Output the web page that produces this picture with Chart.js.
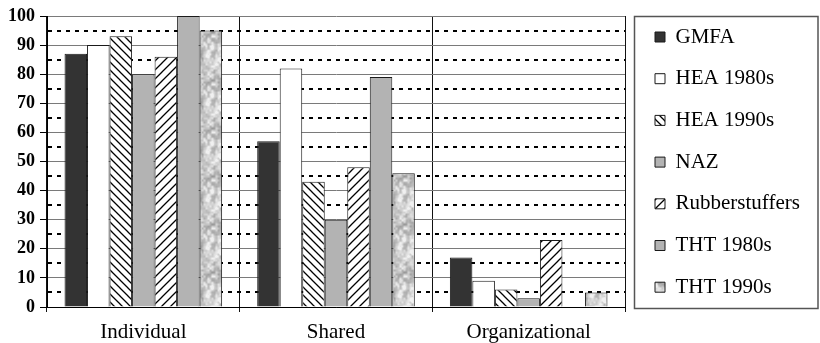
<!DOCTYPE html>
<html>
<head>
<meta charset="utf-8">
<script src="https://cdn.jsdelivr.net/npm/chart.js@4/dist/chart.umd.min.js"></script>
<style>
  html, body { margin: 0; padding: 0; background: #fff; }
  canvas { display: block; }
</style>
</head>
<body>
<canvas id="chart" width="820" height="343"></canvas>
<script>
// Categories and series
const categories = ['Individual', 'Shared', 'Organizational'];
const seriesNames = ['GMFA', 'HEA 1980s', 'HEA 1990s', 'NAZ', 'Rubberstuffers', 'THT 1980s', 'THT 1990s'];
const gmfa = [87, 57, 17];
const hea1980s = [90, 82, 9];
const hea1990s = [93, 43, 6];
const naz = [80, 30, 3];
const rubberstuffers = [86, 48, 23];
const tht1980s = [100, 79, 0];
const tht1990s = [95, 46, 5];

// Value axis: labelled every 10, dotted guide lines halfway between
const yMin = 0;
const yMax = 100;
const yLabelStep = 10;
const yMinorStep = 5;

const SERIF = "'Liberation Serif', 'Times New Roman', serif";
const canvas = document.getElementById('chart');
const ctx = canvas.getContext('2d');

// Diagonal hatch fill; dir > 0 draws '/', dir < 0 draws '\'
function hatch(size, dir, lw) {
  const c = document.createElement('canvas');
  c.width = c.height = size;
  const g = c.getContext('2d');
  g.fillStyle = '#fff';
  g.fillRect(0, 0, size, size);
  g.strokeStyle = '#000';
  g.lineWidth = lw;
  g.beginPath();
  if (dir > 0) {
    g.moveTo(-1, size + 1); g.lineTo(size + 1, -1);
    g.moveTo(-1, 1); g.lineTo(1, -1);
    g.moveTo(size - 1, size + 1); g.lineTo(size + 1, size - 1);
  } else {
    g.moveTo(-1, -1); g.lineTo(size + 1, size + 1);
    g.moveTo(size - 1, -1); g.lineTo(size + 1, 1);
    g.moveTo(-1, size - 1); g.lineTo(1, size + 1);
  }
  g.stroke();
  return ctx.createPattern(c, 'repeat');
}

// Mottled light grey "granite" fill built from tileable value noise
function granite() {
  const s = 48;
  const c = document.createElement('canvas');
  c.width = c.height = s;
  const g = c.getContext('2d');
  const img = g.createImageData(s, s);
  const hash = (x, y) => {
    const t = Math.sin(x * 127.1 + y * 311.7) * 43758.5453;
    return t - Math.floor(t);
  };
  const noise = (x, y, cell, seed) => {
    const n = s / cell;
    const gx = x / cell, gy = y / cell;
    const x0 = Math.floor(gx), y0 = Math.floor(gy);
    const fx = gx - x0, fy = gy - y0;
    const sx = fx * fx * (3 - 2 * fx), sy = fy * fy * (3 - 2 * fy);
    const a = hash(x0 % n + seed, y0 % n);
    const b = hash((x0 + 1) % n + seed, y0 % n);
    const c2 = hash(x0 % n + seed, (y0 + 1) % n);
    const d = hash((x0 + 1) % n + seed, (y0 + 1) % n);
    return a + (b - a) * sx + (c2 - a) * sy + (a - b - c2 + d) * sx * sy;
  };
  for (let y = 0; y < s; y++) {
    for (let x = 0; x < s; x++) {
      const v = 0.4 * noise(x, y, 8, 0) + 0.35 * noise(x, y, 4, 50) + 0.25 * noise(x, y, 2, 100);
      const gray = Math.max(130, Math.min(240, 110 + v * 180));
      const i = (y * s + x) * 4;
      img.data[i] = img.data[i + 1] = img.data[i + 2] = gray;
      img.data[i + 3] = 255;
    }
  }
  g.putImageData(img, 0, 0);
  return ctx.createPattern(c, 'repeat');
}

const fills = ['#333333', '#ffffff', hatch(8, -1, 1.3), '#b3b3b3', hatch(9, 1, 1.3), '#b3b3b3', granite()];
const seriesValues = [gmfa, hea1980s, hea1990s, naz, rubberstuffers, tht1980s, tht1990s];

const datasets = seriesNames.map((name, i) => ({
  label: name,
  data: seriesValues[i],
  backgroundColor: fills[i],
  borderColor: '#1a1a1a',
  borderWidth: 1,
  categoryPercentage: 0.818,
  barPercentage: 1.0
}));

const isMinor = c => c.tick && c.tick.value % yLabelStep !== 0;

// Places the legend beside the plot and draws its frame
const legendBox = {
  id: 'legendBox',
  afterLayout(chart) {
    const a = chart.chartArea;
    const l = chart.legend;
    const pad = chart.options.plugins.legend.labels.padding;
    l.left = a.right + 9.3;
    l.right = chart.width - 2;
    l.top = a.top + 10.5 - pad;
    l.bottom = chart.height + 40;
  },
  afterDraw(chart) {
    const a = chart.chartArea;
    const c = chart.ctx;
    c.save();
    c.strokeStyle = '#555';
    c.lineWidth = 1.5;
    c.strokeRect(a.right + 9.5, a.top + 0.5, chart.width - a.right - 11.5, a.bottom - a.top + 1);
    c.restore();
  }
};

new Chart(ctx, {
  type: 'bar',
  data: { labels: categories, datasets },
  plugins: [legendBox],
  options: {
    responsive: false,
    animation: false,
    devicePixelRatio: 1,
    layout: { padding: { left: 0, top: 16, right: 195, bottom: 0 } },
    plugins: {
      tooltip: { enabled: false },
      legend: {
        position: 'chartArea',
        align: 'start',
        labels: {
          color: '#000',
          font: { family: SERIF, size: 21 },
          boxWidth: 10,
          boxHeight: 10,
          padding: 20.7
        }
      }
    },
    scales: {
      x: {
        afterFit(scale) { scale.height = 36; },
        grid: { color: '#111', lineWidth: 1, tickLength: 5, offset: true },
        border: { display: true, color: '#000', width: 1 },
        ticks: { color: '#000', padding: 8, font: { family: SERIF, size: 21 } }
      },
      y: {
        min: yMin,
        max: yMax,
        afterFit(scale) { scale.width = 47; },
        grid: {
          color: c => isMinor(c) ? '#000' : (c.tick && c.tick.value === yMin ? '#000' : '#7a7a7a'),
          lineWidth: c => isMinor(c) ? 2 : 1,
          tickLength: 7,
          tickColor: c => isMinor(c) ? 'rgba(0,0,0,0)' : '#000',
          tickWidth: 1
        },
        border: { display: true, color: '#000', width: 1, dash: c => isMinor(c) ? [4, 5] : [] },
        ticks: {
          stepSize: yMinorStep,
          autoSkip: false,
          color: '#000',
          padding: 5,
          font: { family: SERIF, size: 18, weight: 'bold' },
          callback: v => (v % yLabelStep === 0 ? v : '')
        }
      }
    }
  }
});
</script>
</body>
</html>
